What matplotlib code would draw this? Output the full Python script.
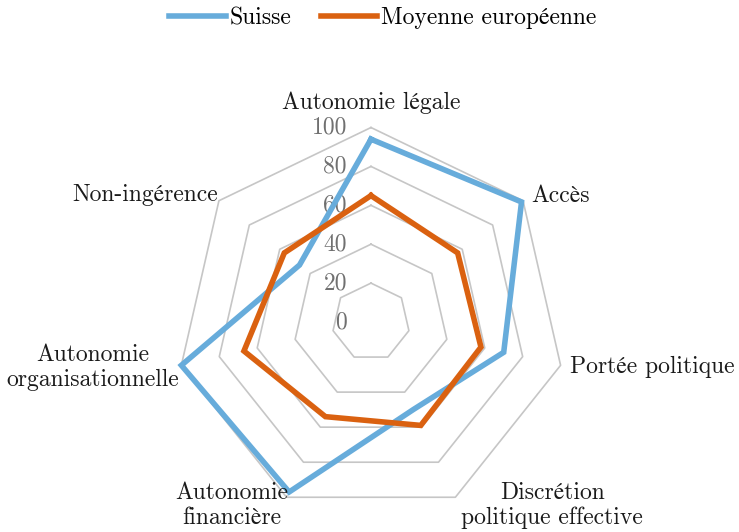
import numpy as np
import matplotlib
matplotlib.use("Agg")
import matplotlib.pyplot as plt
from matplotlib.transforms import offset_copy

plt.rcParams['font.family'] = ['cmr10', 'STIXGeneral', 'DejaVu Serif']
plt.rcParams['axes.unicode_minus'] = False

# axes of the radar, clockwise from the top
categories = ["Autonomie légale", "Accès", "Portée politique",
              "Discrétion\npolitique effective", "Autonomie\nfinancière",
              "Autonomie\norganisationnelle", "Non-ingérence"]
suisse = [94, 99, 70, 50, 97, 100, 47]
moyenne = [65, 57, 58, 59, 54, 67, 57]
ring_values = [0, 20, 40, 60, 80, 100]

n = len(categories)
angles = np.arange(n) * 2 * np.pi / n
closed = np.append(angles, angles[0])

fig = plt.figure(figsize=(7.39, 5.32), dpi=100)
ax = fig.add_axes([0.2388, 0.0291, 0.5264, 0.7312], projection="polar")
ax.set_theta_offset(np.pi / 2)
ax.set_theta_direction(-1)
ax.set_ylim(0, 100)
ax.grid(False)
ax.spines["polar"].set_visible(False)
ax.set_xticks([])
ax.set_yticks([])
ax.patch.set_alpha(0)

# polygon grid rings
for v in ring_values[1:]:
    ax.plot(closed, [v] * (n + 1), color="#c6c6c6", lw=1.2, zorder=1, clip_on=False)

# radial value labels
lab_tr = offset_copy(ax.transData, fig=fig, x=-24, y=0, units="dots")
for v in ring_values:
    ax.text(0, v, str(v), transform=lab_tr, ha="right", va="center",
            fontsize=17, color="#707070", zorder=2)

ax.plot(closed, suisse + [suisse[0]], color="#67acdb", lw=4.0, label="Suisse",
        zorder=3, clip_on=False, solid_joinstyle="miter")
ax.plot(closed, moyenne + [moyenne[0]], color="#da6110", lw=4.0,
        label="Moyenne européenne", zorder=4, clip_on=False, solid_joinstyle="miter")

# category labels: offset (dots) from the 100 vertex
label_pos = [
    (0, 0, 25, "center"),
    (1, 8, 5, "left"),
    (2, 9, -2, "left"),
    (3, 97, -8, "center"),
    (4, -55, -8, "center"),
    (5, -2, -2, "right"),
    (6, -1, 6, "right"),
]
for i, dx, dy, ha in label_pos:
    tr = offset_copy(ax.transData, fig=fig, x=dx, y=dy, units="dots")
    ax.text(angles[i], 100, categories[i], transform=tr, ha=ha, va="center",
            fontsize=17, color="#1a1a1a", linespacing=1.15, multialignment="center")

fig.legend(loc="center", bbox_to_anchor=(0.518, 1 - 18 / 532), ncol=2, frameon=False,
           fontsize=17, handlelength=2.4, handletextpad=0.15, columnspacing=1.25)

fig.savefig("out.png", dpi=100)
